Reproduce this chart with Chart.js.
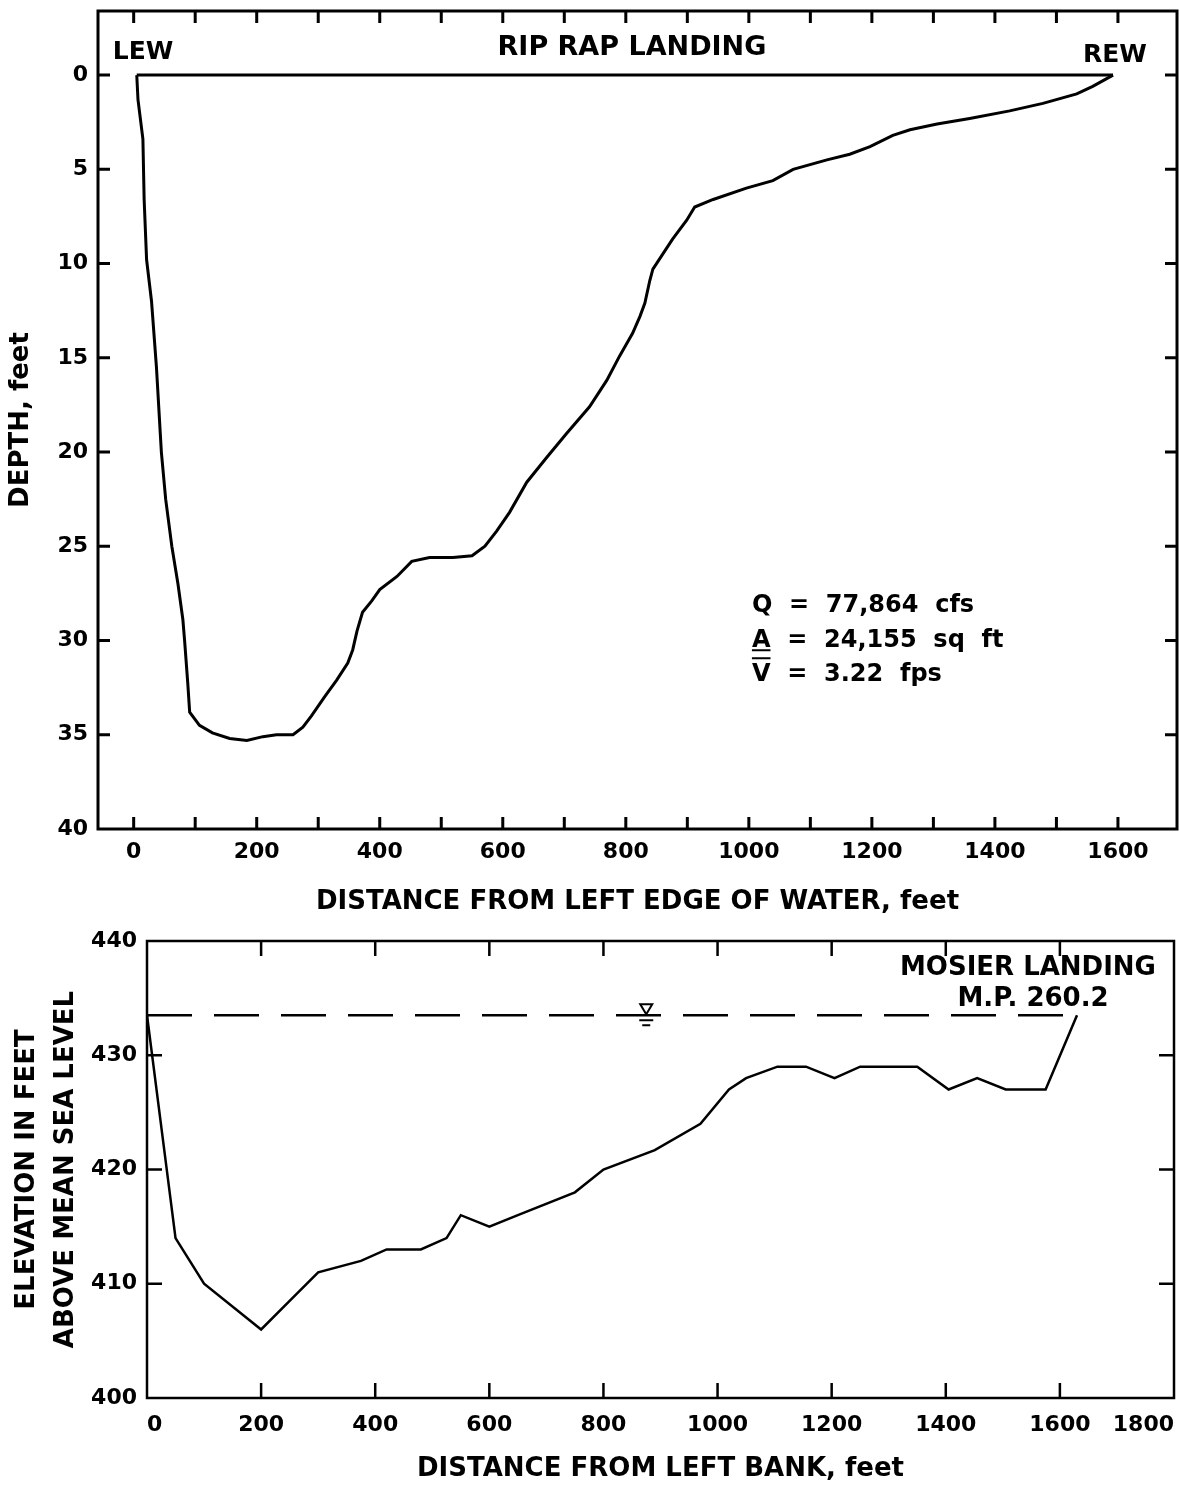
<!DOCTYPE html>
<html lang="en">
<head>
  <meta charset="UTF-8">
  <title>Channel Cross Sections</title>
  <script src="https://cdn.jsdelivr.net/npm/chart.js"></script>
  <style>
    body {
      margin: 0;
      background: #fff;
    }
    canvas {
      display: block;
    }
  </style>
</head>
<body>
  <canvas id="depthChart" width="1180" height="920"></canvas>
  <canvas id="elevChart" width="1180" height="565"></canvas>

  <script>
    // --- Rip Rap Landing: depth below water surface ---
    const profileX = [5, 7, 15, 17, 21, 29, 37, 45, 52, 62, 72, 80, 83, 88, 91, 107, 128, 156, 184, 210, 232, 259,
      275, 289, 310, 330, 348, 356, 363, 372, 387, 400, 428, 452, 481, 519, 550, 571, 590, 611, 639, 671, 704,
      741, 769, 790, 811, 823, 831, 839, 844, 860, 876, 899, 912, 942, 996, 1039, 1072, 1127, 1164, 1197, 1234,
      1262, 1306, 1359, 1424, 1478, 1533, 1559, 1592];
    const profileDepth = [0, 1.3, 3.4, 6.6, 9.8, 12, 15.5, 20, 22.5, 25, 27, 28.9, 30.1, 32.3, 33.8, 34.5, 34.9,
      35.2, 35.3, 35.1, 35.0, 35.0, 34.6, 34.0, 33.0, 32.1, 31.2, 30.5, 29.5, 28.5, 27.9, 27.3, 26.6, 25.8, 25.6,
      25.6, 25.5, 25.0, 24.2, 23.2, 21.6, 20.3, 19.0, 17.6, 16.2, 14.9, 13.7, 12.8, 12.1, 10.9, 10.3, 9.5, 8.7,
      7.7, 7.0, 6.6, 6.0, 5.6, 5.0, 4.5, 4.2, 3.8, 3.2, 2.9, 2.6, 2.3, 1.9, 1.5, 1.0, 0.6, 0];
    const surfaceX = [5, 1592];
    const surfaceDepth = [0, 0];
    const depthXLabels = [0, 200, 400, 600, 800, 1000, 1200, 1400, 1600];

    // --- Mosier Landing: bed elevation ---
    const bedX = [0, 50, 100, 200, 250, 300, 375, 420, 480, 525, 550, 600, 650, 750, 800, 890, 970, 1020, 1050,
      1105, 1155, 1205, 1250, 1350, 1405, 1455, 1505, 1575, 1630];
    const bedElev = [433.5, 414, 410, 406, 408.5, 411, 412, 413, 413, 414, 416, 415, 416, 418, 420, 421.7, 424,
      427, 428, 429, 429, 428, 429, 429, 427, 428, 427, 427, 433.5];
    const waterX = [0, 1630];
    const waterElev = [433.5, 433.5];

    const toPoints = (xs, ys) => xs.map((v, i) => ({ x: v, y: ys[i] }));

    Chart.defaults.font.family = "'DejaVu Sans', sans-serif";
    Chart.defaults.font.weight = 'bold';
    Chart.defaults.color = '#000';

    // frame around the plot with inward tick marks on all four sides
    const frameTicks = {
      id: 'frameTicks',
      afterDatasetsDraw(chart, args, opts) {
        const { ctx, chartArea: a, scales: { x, y } } = chart;
        ctx.save();
        ctx.strokeStyle = '#000';
        ctx.lineWidth = opts.width;
        ctx.strokeRect(a.left, a.top, a.right - a.left, a.bottom - a.top);
        ctx.beginPath();
        x.ticks.forEach(t => {
          if (t.value <= x.min || t.value >= x.max) return;
          const px = x.getPixelForValue(t.value);
          ctx.moveTo(px, a.bottom);
          ctx.lineTo(px, a.bottom - opts.len);
          ctx.moveTo(px, a.top);
          ctx.lineTo(px, a.top + opts.len);
        });
        y.ticks.forEach(t => {
          if (t.value <= y.min || t.value >= y.max) return;
          const py = y.getPixelForValue(t.value);
          ctx.moveTo(a.left, py);
          ctx.lineTo(a.left + opts.len, py);
          ctx.moveTo(a.right, py);
          ctx.lineTo(a.right - opts.len, py);
        });
        ctx.stroke();
        ctx.restore();
      }
    };

    const depthNotes = {
      id: 'depthNotes',
      afterDatasetsDraw(chart) {
        const { ctx, scales: { x, y } } = chart;
        ctx.save();
        ctx.fillStyle = '#000';
        ctx.textBaseline = 'middle';
        ctx.font = "bold 25px 'DejaVu Sans'";
        ctx.textAlign = 'left';
        ctx.fillText('LEW', x.getPixelForValue(-34), y.getPixelForValue(-1.2));
        ctx.textAlign = 'center';
        ctx.fillText('REW', x.getPixelForValue(1595), y.getPixelForValue(-1.05));
        ctx.font = "bold 27px 'DejaVu Sans'";
        ctx.fillText('RIP RAP LANDING', x.getPixelForValue(810), y.getPixelForValue(-1.45));

        // discharge summary
        ctx.font = "bold 24px 'DejaVu Sans'";
        ctx.textAlign = 'left';
        ctx.textBaseline = 'alphabetic';
        const lx = x.getPixelForValue(1005);
        const by = y.getPixelForValue(28.5);
        ctx.fillText('Q  =  77,864  cfs', lx, by);
        ctx.fillText('A  =  24,155  sq  ft', lx, by + 35);
        ctx.fillText('V  =  3.22  fps', lx, by + 69);
        const w = ctx.measureText('A').width;
        ctx.lineWidth = 2;
        ctx.beginPath();
        ctx.moveTo(lx, by + 38);
        ctx.lineTo(lx + w, by + 38);
        ctx.moveTo(lx, by + 46);
        ctx.lineTo(lx + w, by + 46);
        ctx.stroke();
        ctx.restore();
      }
    };

    const elevNotes = {
      id: 'elevNotes',
      afterDatasetsDraw(chart) {
        const { ctx, scales: { x, y } } = chart;
        ctx.save();
        ctx.fillStyle = '#000';
        ctx.strokeStyle = '#000';
        ctx.font = "bold 26px 'DejaVu Sans'";
        ctx.textAlign = 'center';
        ctx.textBaseline = 'alphabetic';
        ctx.fillText('MOSIER LANDING', x.getPixelForValue(1544), y.getPixelForValue(437.0));
        ctx.fillText('M.P. 260.2', x.getPixelForValue(1553), y.getPixelForValue(434.3));

        // water surface symbol
        const sx = x.getPixelForValue(875);
        const sy = y.getPixelForValue(waterElev[0]);
        ctx.lineWidth = 2;
        ctx.beginPath();
        ctx.moveTo(sx - 6, sy - 11);
        ctx.lineTo(sx + 6, sy - 11);
        ctx.lineTo(sx, sy - 1);
        ctx.closePath();
        ctx.moveTo(sx - 7, sy + 5);
        ctx.lineTo(sx + 7, sy + 5);
        ctx.moveTo(sx - 4, sy + 10);
        ctx.lineTo(sx + 4, sy + 10);
        ctx.stroke();
        ctx.restore();
      }
    };

    const baseOptions = {
      responsive: false,
      animation: false,
      events: [],
      plugins: {
        legend: { display: false },
        tooltip: { enabled: false }
      }
    };

    new Chart(document.getElementById('depthChart'), {
      type: 'scatter',
      data: {
        datasets: [
          {
            data: toPoints(profileX, profileDepth),
            showLine: true,
            borderColor: '#000',
            borderWidth: 3,
            pointRadius: 0
          },
          {
            data: toPoints(surfaceX, surfaceDepth),
            showLine: true,
            borderColor: '#000',
            borderWidth: 3,
            pointRadius: 0
          }
        ]
      },
      options: {
        ...baseOptions,
        layout: { padding: { top: 11, right: 3, left: 0, bottom: 0 } },
        plugins: { ...baseOptions.plugins, frameTicks: { width: 3, len: 12 } },
        scales: {
          x: {
            type: 'linear',
            min: -58,
            max: 1696,
            grid: { display: false, drawTicks: false },
            border: { display: false },
            ticks: {
              stepSize: 100,
              includeBounds: false,
              autoSkip: false,
              maxRotation: 0,
              padding: 10,
              font: { size: 22 },
              callback: v => depthXLabels.includes(v) ? String(v) : ''
            },
            title: {
              display: true,
              text: 'DISTANCE FROM LEFT EDGE OF WATER, feet',
              font: { size: 26 },
              padding: { top: 0, bottom: 2 }
            },
            afterFit: s => { s.height = 91; s.paddingLeft = 0; s.paddingRight = 0; }
          },
          y: {
            type: 'linear',
            reverse: true,
            min: -3.4,
            max: 40,
            grid: { display: false, drawTicks: false },
            border: { display: false },
            ticks: { stepSize: 5, includeBounds: false, padding: 10, font: { size: 22 } },
            title: {
              display: true,
              text: 'DEPTH, feet',
              font: { size: 26 },
              padding: { top: 6, bottom: 0 }
            },
            afterFit: s => { s.width = 98; s.paddingTop = 0; s.paddingBottom = 0; }
          }
        }
      },
      plugins: [frameTicks, depthNotes]
    });

    new Chart(document.getElementById('elevChart'), {
      type: 'scatter',
      data: {
        datasets: [
          {
            data: toPoints(bedX, bedElev),
            showLine: true,
            borderColor: '#000',
            borderWidth: 2.5,
            pointRadius: 0
          },
          {
            data: toPoints(waterX, waterElev),
            showLine: true,
            borderColor: '#000',
            borderWidth: 2.5,
            borderDash: [45, 22],
            pointRadius: 0
          }
        ]
      },
      options: {
        ...baseOptions,
        layout: { padding: { top: 21, right: 6, left: 0, bottom: 0 } },
        plugins: { ...baseOptions.plugins, frameTicks: { width: 2.5, len: 15 } },
        scales: {
          x: {
            type: 'linear',
            min: 0,
            max: 1800,
            grid: { display: false, drawTicks: false },
            border: { display: false },
            ticks: {
              stepSize: 200,
              autoSkip: false,
              maxRotation: 0,
              align: 'inner',
              padding: 14,
              font: { size: 22 },
              callback: v => String(v)
            },
            title: {
              display: true,
              text: 'DISTANCE FROM LEFT BANK, feet',
              font: { size: 26 },
              padding: { top: 0, bottom: 0 }
            },
            afterFit: s => { s.height = 87; s.paddingLeft = 0; s.paddingRight = 0; }
          },
          y: {
            type: 'linear',
            min: 400,
            max: 440,
            grid: { display: false, drawTicks: false },
            border: { display: false },
            ticks: { stepSize: 10, padding: 10, font: { size: 22 } },
            title: {
              display: true,
              text: ['ELEVATION IN FEET', 'ABOVE MEAN SEA LEVEL'],
              font: { size: 26, lineHeight: 1.5 },
              padding: { top: 8, bottom: 0 }
            },
            afterFit: s => { s.width = 147; s.paddingTop = 0; s.paddingBottom = 0; }
          }
        }
      },
      plugins: [frameTicks, elevNotes]
    });
  </script>
</body>
</html>
